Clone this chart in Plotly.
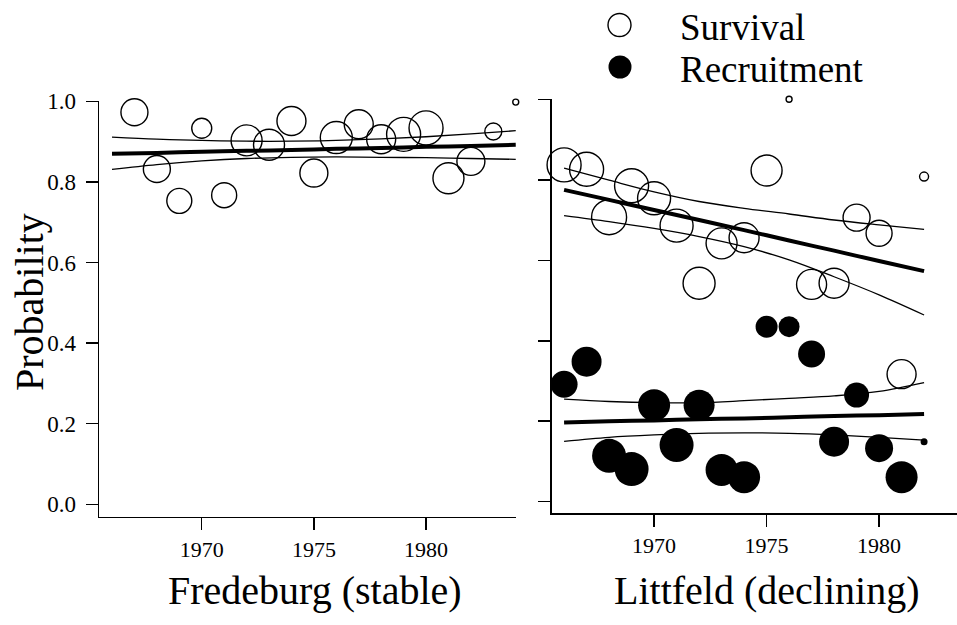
import plotly.graph_objects as go

# ---------------- data ----------------
fred_years = [1967, 1968, 1969, 1970, 1971, 1972, 1973, 1974, 1975,
              1976, 1977, 1978, 1979, 1980, 1981, 1982, 1983, 1984]
fred_survival = [0.973, 0.832, 0.753, 0.933, 0.767, 0.903, 0.892, 0.951, 0.822,
                 0.910, 0.943, 0.906, 0.918, 0.934, 0.809, 0.851, 0.925, 0.998]
fred_weight = [27, 27, 25, 20, 25, 31, 31, 29, 28, 32, 29, 29, 34, 34, 31, 28, 17, 6]

fred_fit_years = [1966, 1968, 1970, 1972, 1974, 1976, 1978, 1980, 1982, 1984]
fred_fit = [0.870, 0.872, 0.875, 0.877, 0.879, 0.882, 0.884, 0.887, 0.889, 0.892]
fred_fit_hi = [0.911, 0.906, 0.903, 0.901, 0.901, 0.903, 0.907, 0.912, 0.919, 0.927]
fred_fit_lo = [0.831, 0.843, 0.852, 0.858, 0.861, 0.862, 0.861, 0.860, 0.858, 0.856]

litt_years = [1966, 1967, 1968, 1969, 1970, 1971, 1972, 1973, 1974,
              1975, 1976, 1977, 1978, 1979, 1980, 1981, 1982]
litt_survival = [0.837, 0.826, 0.707, 0.785, 0.754, 0.686, 0.543, 0.642, 0.656,
                 0.823, 1.000, 0.540, 0.543, 0.706, 0.667, 0.317, 0.808]
litt_surv_weight = [34, 34, 35, 34, 33, 33, 32, 31, 30, 31, 6, 30, 30, 27, 26, 29, 9]
litt_recruit = [0.292, 0.348, 0.114, 0.081, 0.240, 0.141, 0.240, 0.079, 0.061,
                0.435, 0.435, 0.367, 0.149, 0.265, 0.133, 0.061, 0.149]
litt_rec_weight = [27, 30, 34, 34, 32, 34, 31, 32, 32, 22, 21, 27, 30, 25, 28, 32, 7]

litt_fit_years = [1966, 1968, 1970, 1972, 1974, 1976, 1978, 1980, 1982]
litt_surv_fit = [0.775, 0.750, 0.725, 0.700, 0.675, 0.649, 0.624, 0.598, 0.573]
litt_surv_hi = [0.829, 0.799, 0.770, 0.746, 0.729, 0.715, 0.700, 0.688, 0.677]
litt_surv_lo = [0.711, 0.696, 0.679, 0.659, 0.634, 0.601, 0.559, 0.514, 0.464]
litt_rec_fit = [0.197, 0.200, 0.202, 0.205, 0.207, 0.210, 0.213, 0.215, 0.218]
litt_rec_hi = [0.255, 0.249, 0.246, 0.246, 0.251, 0.257, 0.263, 0.274, 0.296]
litt_rec_lo = [0.150, 0.160, 0.166, 0.170, 0.171, 0.170, 0.166, 0.160, 0.153]

y_ticks = [0.0, 0.2, 0.4, 0.6, 0.8, 1.0]
y_ticklabels = ["0.0", "0.2", "0.4", "0.6", "0.8", "1.0"]
x_ticks = [1970, 1975, 1980]
x_ticklabels = ["1970", "1975", "1980"]
legend_labels = ["Survival", "Recruitment"]
x_titles = ["Fredeburg (stable)", "Littfeld (declining)"]
y_title = "Probability"

# ---------------- figure ----------------
W, H = 957, 625
FONT = "Liberation Serif, Times New Roman, serif"


def px(x):
    """screen x pixel -> paper fraction"""
    return x / W


def py(y):
    """screen y pixel -> paper fraction"""
    return 1 - y / H


fig = go.Figure()


def add_lines(xs, ys, xa, ya, width):
    fig.add_trace(go.Scatter(x=xs, y=ys, mode="lines", xaxis=xa, yaxis=ya,
                             line=dict(color="black", width=width, shape="spline"),
                             showlegend=False, hoverinfo="skip", cliponaxis=False))


# Fredeburg
add_lines(fred_fit_years, fred_fit_hi, "x", "y", 1.3)
add_lines(fred_fit_years, fred_fit_lo, "x", "y", 1.3)
add_lines(fred_fit_years, fred_fit, "x", "y", 4)
fig.add_trace(go.Scatter(x=fred_years, y=fred_survival, mode="markers", xaxis="x", yaxis="y",
                         marker=dict(symbol="circle-open", size=fred_weight, color="black",
                                     opacity=1, line=dict(width=1.4, color="black")),
                         showlegend=False, cliponaxis=False))

# Littfeld
add_lines(litt_fit_years, litt_surv_hi, "x2", "y2", 1.3)
add_lines(litt_fit_years, litt_surv_lo, "x2", "y2", 1.3)
add_lines(litt_fit_years, litt_surv_fit, "x2", "y2", 4)
add_lines(litt_fit_years, litt_rec_hi, "x2", "y2", 1.3)
add_lines(litt_fit_years, litt_rec_lo, "x2", "y2", 1.3)
add_lines(litt_fit_years, litt_rec_fit, "x2", "y2", 4)
fig.add_trace(go.Scatter(x=litt_years, y=litt_recruit, mode="markers", xaxis="x2", yaxis="y2",
                         marker=dict(symbol="circle", size=litt_rec_weight, color="black",
                                     opacity=1, line=dict(width=0)),
                         showlegend=False, cliponaxis=False))
fig.add_trace(go.Scatter(x=litt_years, y=litt_survival, mode="markers", xaxis="x2", yaxis="y2",
                         marker=dict(symbol="circle-open", size=litt_surv_weight, color="black",
                                     opacity=1, line=dict(width=1.4, color="black")),
                         showlegend=False, cliponaxis=False))

axis_common = dict(showline=True, linecolor="black", linewidth=1.5, ticks="outside",
                   ticklen=12, tickwidth=1.5, tickcolor="black", showgrid=False,
                   zeroline=False, automargin=False)
xtickfont = dict(family=FONT, size=22, color="black")
ytickfont = dict(family=FONT, size=23, color="black")

px_per_year_left = 22.43
left_x0, left_x1 = 99, 516
right_x0, right_x1 = 551.7, 957
px_per_year_right = 22.5

fig.update_layout(
    template="none",
    width=W, height=H,
    margin=dict(l=0, r=0, t=0, b=0, pad=0),
    paper_bgcolor="white", plot_bgcolor="white",
    showlegend=False,
    hovermode=False,
    xaxis=dict(domain=[px(left_x0), px(left_x1)],
               range=[1965.42, 1965.42 + (left_x1 - left_x0) / px_per_year_left], anchor="y",
               tickvals=x_ticks, ticktext=x_ticklabels, ticklabelstandoff=0,
               tickfont=xtickfont, **axis_common),
    yaxis=dict(domain=[py(516.7), py(101.3)], range=[-0.0308, 1.0], anchor="x",
               tickvals=y_ticks, ticktext=y_ticklabels, ticklabelstandoff=5,
               tickfont=ytickfont, **axis_common),
    xaxis2=dict(domain=[px(right_x0), px(right_x1)],
                range=[1965.45, 1965.45 + (right_x1 - right_x0) / px_per_year_right], anchor="y2",
                tickvals=x_ticks, ticktext=x_ticklabels, ticklabelstandoff=0,
                tickfont=xtickfont, **axis_common),
    yaxis2=dict(domain=[py(513.3), py(99.3)], range=[-0.0288, 1.0], anchor="x2",
                tickvals=y_ticks, showticklabels=False, **axis_common),
)

# axis titles and legend text
annots = [
    dict(text=x_titles[0], x=px(315), y=py(590), xref="paper", yref="paper",
         xanchor="center", yanchor="middle", showarrow=False,
         font=dict(family=FONT, size=40, color="black")),
    dict(text=x_titles[1], x=px(766), y=py(590), xref="paper", yref="paper",
         xanchor="center", yanchor="middle", showarrow=False,
         font=dict(family=FONT, size=40, color="black")),
    dict(text=y_title, x=px(29), y=py(302), xref="paper", yref="paper",
         xanchor="center", yanchor="middle", showarrow=False, textangle=-90,
         font=dict(family=FONT, size=40, color="black")),
    dict(text=legend_labels[0], x=px(678), y=py(27), xref="paper", yref="paper",
         xanchor="left", yanchor="middle", showarrow=False,
         font=dict(family=FONT, size=37, color="black")),
    dict(text=legend_labels[1], x=px(678), y=py(69), xref="paper", yref="paper",
         xanchor="left", yanchor="middle", showarrow=False,
         font=dict(family=FONT, size=37, color="black")),
]
fig.update_layout(annotations=annots)

# legend symbols
r = 11.5
fig.add_shape(type="circle", xref="paper", yref="paper",
              x0=px(619.5 - r), x1=px(619.5 + r), y0=py(25 + r), y1=py(25 - r),
              line=dict(color="black", width=1.4), fillcolor="rgba(0,0,0,0)")
fig.add_shape(type="circle", xref="paper", yref="paper",
              x0=px(620 - r), x1=px(620 + r), y0=py(67 + r), y1=py(67 - r),
              line=dict(color="black", width=0), fillcolor="black")

# remove the default page margin so the figure fills the window exactly
fig.write_html("out.html",
               config={"displayModeBar": False, "staticPlot": True},
               post_script="document.body.style.margin='0';"
                           "document.body.style.overflow='hidden';")
